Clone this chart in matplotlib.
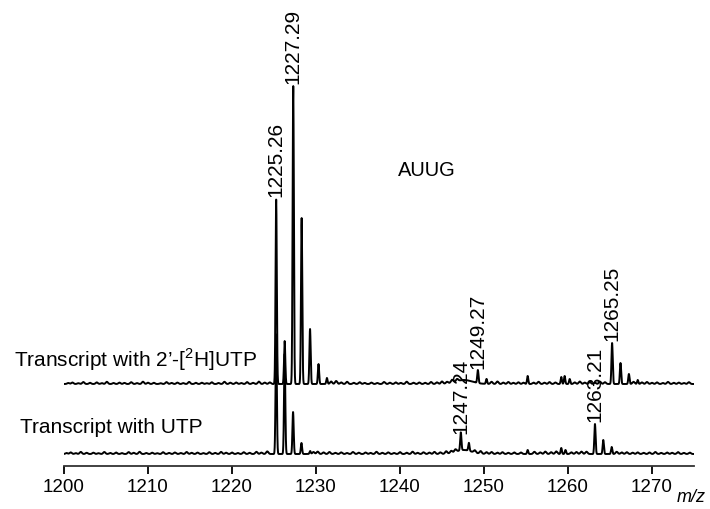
import numpy as np
import matplotlib
matplotlib.use("Agg")
import matplotlib.pyplot as plt

plt.rcParams["font.family"] = ["Liberation Sans", "DejaVu Sans"]
plt.rcParams["mathtext.fontset"] = "custom"
plt.rcParams["mathtext.rm"] = "Liberation Sans"

# peak lists (m/z, height in arbitrary units)
top_mz = [1225.26, 1226.27, 1227.29, 1228.29, 1229.29, 1230.30, 1231.3,
          1249.27, 1250.3, 1255.2, 1259.2, 1259.6, 1260.2,
          1265.25, 1266.25, 1267.25, 1268.3]
top_h = [185, 43, 298, 166, 55, 20, 6,
         13, 5, 8, 7, 8, 5,
         41, 21, 10, 4]

bot_mz = [1225.26, 1226.27, 1227.27, 1228.27, 1229.3,
          1247.24, 1248.2, 1255.2, 1259.2, 1259.7,
          1263.21, 1264.2, 1265.2]
bot_h = [120, 100, 42, 11, 3,
         18, 8, 4, 6, 4,
         30, 14, 7]

# broad humps (centre, height, width)
top_hump = [(1247.6, 4, 1.0)]
bot_hump = [(1247.6, 4, 0.9)]

# baseline noise spikes
top_noise_mz = [1200.5, 1201.0, 1201.7, 1202.3, 1203.1, 1203.9, 1204.5, 1205.1, 1205.9, 1206.6,
                1207.2, 1208.0, 1208.7, 1209.4, 1210.0, 1210.7, 1211.5, 1212.2, 1212.8, 1213.5,
                1214.2, 1214.9, 1215.7, 1216.4, 1217.0, 1217.6, 1218.4, 1219.1, 1219.8, 1220.5,
                1221.1, 1221.8, 1222.5, 1223.2, 1223.9, 1224.5, 1231.8, 1232.4, 1233.0, 1233.7,
                1234.5, 1235.2, 1235.8, 1236.6, 1237.3, 1238.1, 1238.8, 1239.5, 1240.1, 1240.8,
                1241.6, 1242.3, 1243.0, 1243.7, 1244.4, 1245.0, 1245.6, 1246.2, 1246.8, 1250.9,
                1251.6, 1252.3, 1252.9, 1253.5, 1254.1, 1254.7, 1255.9, 1256.5, 1257.2, 1257.8,
                1258.5, 1260.8, 1261.4, 1262.0, 1262.6, 1263.2, 1263.8, 1264.4, 1267.8, 1268.8,
                1269.4, 1270.0, 1270.6, 1271.3, 1271.9, 1272.6, 1273.2, 1273.8, 1274.4]
top_noise_h = [1.0, 1.5, 0.8, 2.0, 1.2, 1.6, 0.9, 2.2, 1.0, 1.4,
               1.1, 1.8, 0.9, 2.3, 1.3, 1.2, 0.8, 1.9, 1.1, 1.4,
               0.9, 2.1, 1.2, 1.3, 0.8, 1.7, 1.0, 2.2, 1.3, 1.5,
               1.0, 1.9, 1.2, 2.4, 1.4, 1.6, 2.5, 3.0, 1.6, 2.2,
               1.2, 1.8, 1.1, 1.4, 1.0, 2.0, 1.3, 1.6, 1.1, 2.3,
               1.3, 1.5, 1.2, 2.0, 1.6, 2.4, 1.7, 2.8, 2.2, 2.2,
               2.5, 1.4, 2.0, 1.2, 1.7, 1.3, 1.4, 2.2, 1.3, 1.9,
               1.5, 1.6, 2.5, 1.4, 2.0, 1.3, 2.4, 1.8, 2.2, 1.6,
               2.0, 1.2, 1.6, 1.0, 2.1, 1.2, 1.4, 1.0, 1.8]

bot_noise_mz = [1200.3, 1200.8, 1201.4, 1202.0, 1202.7, 1203.5, 1204.1, 1204.8, 1205.5, 1206.2,
                1206.9, 1207.7, 1208.3, 1209.0, 1209.8, 1210.5, 1211.1, 1211.8, 1212.5, 1213.2,
                1213.9, 1214.6, 1215.2, 1215.9, 1216.6, 1217.3, 1218.0, 1218.7, 1219.3, 1220.0,
                1220.7, 1221.4, 1222.1, 1222.9, 1223.5, 1224.2, 1229.7, 1230.2, 1230.9, 1231.6,
                1232.3, 1233.0, 1233.7, 1234.4, 1235.1, 1235.9, 1236.5, 1237.2, 1237.9, 1238.6,
                1239.3, 1240.0, 1240.8, 1241.5, 1242.1, 1242.8, 1243.5, 1244.1, 1244.8, 1245.5,
                1246.1, 1246.6, 1248.9, 1249.6, 1250.3, 1250.9, 1251.6, 1252.2, 1252.9, 1253.6,
                1254.4, 1256.0, 1256.7, 1257.3, 1258.0, 1258.6, 1260.4, 1261.0, 1261.6, 1262.2,
                1265.8, 1266.4, 1267.0, 1267.7, 1268.3, 1269.0, 1269.7, 1270.4, 1271.1, 1271.8,
                1272.4, 1273.1, 1273.8, 1274.5]
bot_noise_h = [1.0, 1.6, 0.9, 2.1, 1.2, 1.3, 0.8, 2.0, 1.1, 1.5,
               0.9, 1.9, 1.2, 2.2, 1.0, 1.3, 0.8, 1.8, 1.1, 1.5,
               1.0, 2.0, 1.2, 1.4, 0.9, 1.8, 1.1, 2.1, 1.3, 1.5,
               1.0, 1.8, 1.2, 2.2, 1.4, 2.6, 2.0, 2.4, 1.6, 2.0,
               1.2, 1.6, 1.0, 2.0, 1.3, 1.5, 1.1, 2.2, 1.2, 1.6,
               1.0, 1.9, 1.3, 2.3, 1.2, 1.7, 1.4, 2.1, 1.6, 2.5,
               2.2, 2.6, 2.4, 2.6, 1.8, 2.0, 1.4, 1.8, 1.2, 1.6,
               1.5, 2.2, 1.6, 2.4, 1.8, 2.6, 1.7, 2.0, 2.4, 2.3,
               2.2, 1.6, 1.8, 1.3, 1.6, 1.2, 1.5, 2.0, 1.1, 1.5,
               1.2, 1.9, 1.1, 1.4]

top_labels = [("1225.26", 1225.26, 185), ("1227.29", 1227.29, 298),
              ("1249.27", 1249.27, 13), ("1265.25", 1265.25, 41)]
bot_labels = [("1247.24", 1247.24, 18), ("1263.21", 1263.21, 30)]

top_offset = 70


def spectrum(x, mz, h, humps, nmz, nh):
    y = np.zeros_like(x)
    for m, a in zip(mz, h):
        y += a * np.exp(-0.5 * ((x - m) / 0.075) ** 2)
    for m, a in zip(nmz, nh):
        y += a * np.exp(-0.5 * ((x - m) / 0.13) ** 2)
    for c, a, w in humps:
        y += a * np.exp(-0.5 * ((x - c) / w) ** 2)
    return y


x = np.linspace(1200, 1275, 6000)
y_top = spectrum(x, top_mz, top_h, top_hump, top_noise_mz, top_noise_h) + top_offset
y_bot = spectrum(x, bot_mz, bot_h, bot_hump, bot_noise_mz, bot_noise_h)

fig = plt.figure(figsize=(7.1, 5.1), dpi=100)
ax = fig.add_axes([64 / 710, 1 - 467 / 510, 630 / 710, 467 / 510])
ax.plot(x, y_bot, color="black", lw=1.4)
ax.plot(x, y_top, color="black", lw=1.4)

ax.set_xlim(1200, 1275)
ax.set_ylim(-12, 455)
for s in ["left", "top", "right"]:
    ax.spines[s].set_visible(False)
ax.spines["bottom"].set_linewidth(1.3)
ax.spines["bottom"].set_color("#333333")
ax.set_yticks([])
ax.set_xticks(np.arange(1200, 1271, 10))
ax.tick_params(axis="x", length=6, width=1.3, labelsize=13.5, pad=3)

for txt, m, h in top_labels:
    ax.annotate(txt, (m, h + top_offset), xytext=(0, 2), textcoords="offset points",
                rotation=90, ha="center", va="bottom", fontsize=15)
for txt, m, h in bot_labels:
    ax.annotate(txt, (m, h), xytext=(0, 2), textcoords="offset points",
                rotation=90, ha="center", va="bottom", fontsize=15)

ax.text(1243.2, 285, "AUUG", fontsize=14.5, ha="center", va="center")
fig.text(14 / 710, 1 - 360 / 510, "Transcript with 2\u2019-[$^{\\mathrm{2}}$H]UTP", fontsize=15,
         ha="left", va="center")
fig.text(20 / 710, 1 - 428 / 510, "Transcript with UTP", fontsize=15, ha="left", va="center")
fig.text(706 / 710, 1 - 498 / 510, "m/z", fontsize=13, style="italic", ha="right", va="center")

fig.savefig("out.png", dpi=100)
